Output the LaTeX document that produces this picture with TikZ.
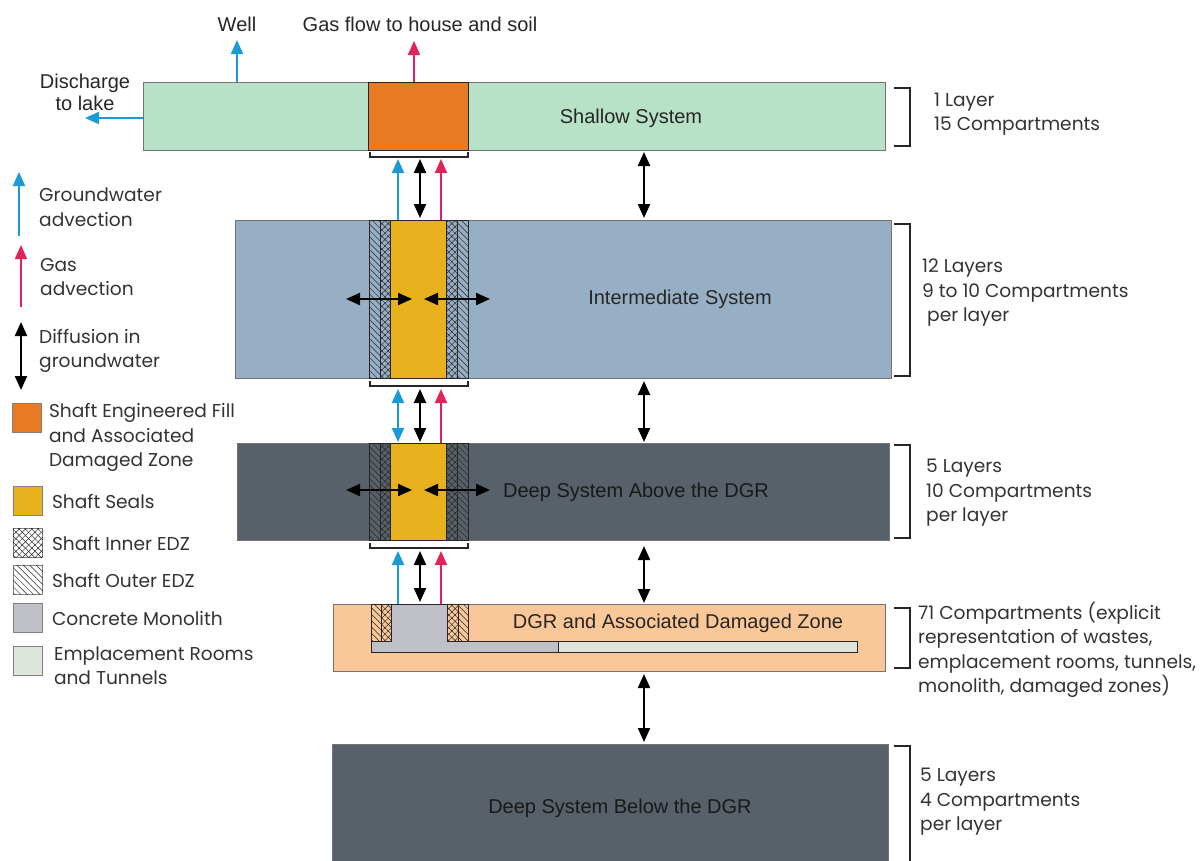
\documentclass[tikz,border=0pt]{standalone}
\usepackage{fontspec}
\setmainfont{Liberation Sans}
\newfontfamily\gothic{Poppins}
\usetikzlibrary{arrows.meta,patterns.meta,positioning}
\definecolor{shallowgreen}{RGB}{184,226,200}
\definecolor{fillorange}{RGB}{232,122,36}
\definecolor{interblue}{RGB}{151,175,196}
\definecolor{deepgrey}{RGB}{88,97,105}
\definecolor{sealyellow}{RGB}{232,178,30}
\definecolor{dgrpeach}{RGB}{250,200,152}
\definecolor{concretegrey}{RGB}{192,192,200}
\definecolor{roomgreen}{RGB}{222,230,220}
\definecolor{gwblue}{RGB}{27,154,214}
\definecolor{gasred}{RGB}{224,36,90}
\tikzset{
  flowtip/.tip={Triangle[length=14pt,width=12pt]},
  layer/.style={draw=black!55,line width=0.6pt,inner sep=0pt,outer sep=0pt,anchor=north west},
  sysname/.style={font=\fontsize{20}{22}\selectfont,text=black!85},
  note/.style={font=\gothic\fontsize{18.6}{24.5}\selectfont,align=left,inner sep=0pt,text=black!80},
  swatch/.style={draw=black!50,line width=0.6pt,minimum size=29pt,inner sep=0pt},
  diff/.style={line width=2.2pt,flowtip-flowtip},
  gw/.style={gwblue,line width=2pt,-flowtip},
  gwdiff/.style={gwblue,line width=2pt,flowtip-flowtip},
  gas/.style={gasred,line width=2pt,-flowtip},
  strip/.style={draw=black!85,line width=0.7pt},
  outeredz/.style={pattern={Lines[angle=-45,distance=4.5pt,line width=0.5pt]},pattern color=black!85},
  inneredz/.style={pattern={Lines[angle=45,distance=4.5pt,line width=0.5pt]},pattern color=black!85,
    postaction={pattern={Lines[angle=-45,distance=4.5pt,line width=0.5pt]},pattern color=black!85}},
  bracket/.style={line width=1.8pt,black!85}
}
\begin{document}
\begin{tikzpicture}[x=1pt,y=-1pt]
\useasboundingbox (0,0) rectangle (1204,860);
% layers
\node[layer,fill=shallowgreen,minimum width=742pt,minimum height=68pt] (shallow) at (143,82) {};
\node[layer,fill=interblue,minimum width=656pt,minimum height=158pt] (inter) at (235,220) {};
\node[layer,fill=deepgrey,minimum width=652pt,minimum height=97pt] (deepup) at (237,443) {};
\node[layer,fill=dgrpeach,minimum width=552pt,minimum height=67pt] (dgr) at (333,604) {};
\node[layer,fill=deepgrey,minimum width=556pt,minimum height=130pt] (deepdown) at (332,744) {};
\draw[strip,fill=fillorange] (368,82) rectangle (468,150);
% shaft
\foreach \top/\bot in {220/378,443/540} {
  \draw[strip,fill=sealyellow] (390,\top) rectangle (446,\bot);
  \path[outeredz] (369,\top) rectangle (380,\bot);
  \path[inneredz] (380,\top) rectangle (390,\bot);
  \path[inneredz] (446,\top) rectangle (457,\bot);
  \path[outeredz] (457,\top) rectangle (468,\bot);
  \draw[strip] (369,\top) rectangle (468,\bot);
  \draw[strip] (380,\top) -- (380,\bot) (457,\top) -- (457,\bot);
  \draw[bracket] (370,\bot+3) -- (370,\bot+8) -- (468,\bot+8) -- (468,\bot+3);
}
\draw[bracket] (370,152) -- (370,157) -- (468,157) -- (468,152);
% repository
\path[outeredz] (371,604) rectangle (381,641);
\path[inneredz] (381,604) rectangle (391,641);
\path[inneredz] (447,604) rectangle (458,641);
\path[outeredz] (458,604) rectangle (468,641);
\draw[strip] (371,604) rectangle (468,641) (381,604) -- (381,641) (458,604) -- (458,641);
\draw[strip,fill=roomgreen] (558,641) rectangle (857,652);
\draw[strip,fill=concretegrey] (391,604) -- (447,604) -- (447,641) -- (558,641) -- (558,652)
  -- (371,652) -- (371,641) -- (391,641) -- cycle;
% system names
\node[sysname] (shallow-t) at (631,118) {Shallow System};
\node[sysname] (inter-t) at (680,299) {Intermediate System};
\node[sysname,text=black!90] (deepup-t) at (636,492) {Deep System Above the DGR};
\node[sysname] (dgr-t) at (678,623) {DGR and Associated Damaged Zone};
\node[sysname,text=black!90] (deepdown-t) at (620,808) {Deep System Below the DGR};
% surface discharge
\node[sysname] (well) at (237,24) {Well};
\node[sysname] (gasout) at (420,24) {Gas flow to house and soil};
\node[sysname,align=center] (lake-t) at (85,92) {Discharge\\to lake};
\coordinate (well-top) at (237,40);
\coordinate (gas-top) at (414,41);
\coordinate (lake) at (85,118);
\draw[gw] (shallow.north -| well-top) -- (well-top);
\draw[gas] (shallow.north -| gas-top) -- (gas-top);
\draw[gw] (shallow.west |- lake) -- (lake);
% transport between layers
\coordinate (mid) at (644,0);
\coordinate (cgw) at (398,0);
\coordinate (cdif) at (420,0);
\coordinate (cgas) at (441,0);
\coordinate (brk1) at (0,159);
\coordinate (brk2) at (0,389);
\coordinate (brk3) at (0,551);
\draw[diff,shorten <=2pt,shorten >=2pt] (shallow.south -| mid) -- (inter.north -| mid);
\draw[diff,shorten <=3pt,shorten >=1pt] (inter.south -| mid) -- (deepup.north -| mid);
\draw[diff,shorten <=6pt,shorten >=1pt] (deepup.south -| mid) -- (dgr.north -| mid);
\draw[diff,shorten <=3pt,shorten >=2pt] (dgr.south -| mid) -- (deepdown.north -| mid);
\draw[gw] (inter.north -| cgw) -- (brk1 -| cgw);
\draw[diff,shorten >=2pt] (brk1 -| cdif) -- (inter.north -| cdif);
\draw[gas] (inter.north -| cgas) -- (brk1 -| cgas);
\draw[gwdiff,shorten >=1pt] (brk2 -| cgw) -- (deepup.north -| cgw);
\draw[diff,shorten >=1pt] (brk2 -| cdif) -- (deepup.north -| cdif);
\draw[gas] (deepup.north -| cgas) -- (brk2 -| cgas);
\draw[gw] (dgr.north -| cgw) -- (brk3 -| cgw);
\draw[diff,shorten >=2pt] (brk3 -| cdif) -- (dgr.north -| cdif);
\draw[gas] (dgr.north -| cgas) -- (brk3 -| cgas);
% diffusion across the shaft
\foreach \m in {299,490} {
  \coordinate (hl-a) at (346,\m); \coordinate (hl-b) at (412,\m);
  \coordinate (hr-a) at (424,\m); \coordinate (hr-b) at (490,\m);
  \draw[diff] (hl-a) -- (hl-b);
  \draw[diff] (hr-a) -- (hr-b);
}
% layer counts
\foreach \t/\b in {88/146,224/376,445/538,608/668,746/880}
  \draw[bracket] (894,\t) -- (910,\t) -- (910,\b) -- (894,\b);
\node[note,anchor=west] (shallow-n) at (934,114) {1 Layer\\15 Compartments};
\node[note,anchor=west] (inter-n) at (922,293) {12 Layers\\9 to 10 Compartments\\~per layer};
\node[note,anchor=west] (deepup-n) at (926,493) {5 Layers\\10 Compartments\\per layer};
\node[note,anchor=west] (dgr-n) at (918,650) {71 Compartments (explicit\\representation of wastes,\\emplacement rooms, tunnels,\\monolith, damaged zones)};
\node[note,anchor=west] (deepdown-n) at (920,802) {5 Layers\\4 Compartments\\per layer};
% legend
\coordinate (kgw-a) at (19,236); \coordinate (kgw-b) at (19,172);
\coordinate (kgas-a) at (21,307); \coordinate (kgas-b) at (21,245);
\coordinate (kdif-a) at (21,322); \coordinate (kdif-b) at (21,390);
\draw[gw] (kgw-a) -- (kgw-b);
\draw[gas] (kgas-a) -- (kgas-b);
\draw[diff] (kdif-a) -- (kdif-b);
\node[note,anchor=west] (kgw-t) at (39,207) {Groundwater\\advection};
\node[note,anchor=west] (kgas-t) at (40,277) {Gas\\advection};
\node[note,anchor=west] (kdif-t) at (39,351) {Diffusion in\\groundwater};
\node[swatch,fill=fillorange] (kfill) at (27,418) {};
\node[swatch,fill=sealyellow] (kseal) at (28,501) {};
\node[swatch,fill=white] (kinner) at (28,543) {};
\path[inneredz] (kinner.south west) rectangle (kinner.north east);
\node[swatch,fill=white] (kouter) at (28,580) {};
\path[outeredz] (kouter.south west) rectangle (kouter.north east);
\node[swatch,fill=concretegrey] (kconc) at (28,618) {};
\node[swatch,fill=roomgreen] (kroom) at (28,661) {};
\node[note,right=7pt of kfill.north east,anchor=north west] (kfill-t) {Shaft Engineered Fill\\and Associated\\Damaged Zone};
\node[note,right=9pt of kseal] (kseal-t) {Shaft Seals};
\node[note,right=9pt of kinner] (kinner-t) {Shaft Inner EDZ};
\node[note,right=9pt of kouter] (kouter-t) {Shaft Outer EDZ};
\node[note,right=9pt of kconc] (kconc-t) {Concrete Monolith};
\node[note,right=11pt of kroom.north east,anchor=north west] (kroom-t) {Emplacement Rooms\\and Tunnels};
\end{tikzpicture}
\end{document}
